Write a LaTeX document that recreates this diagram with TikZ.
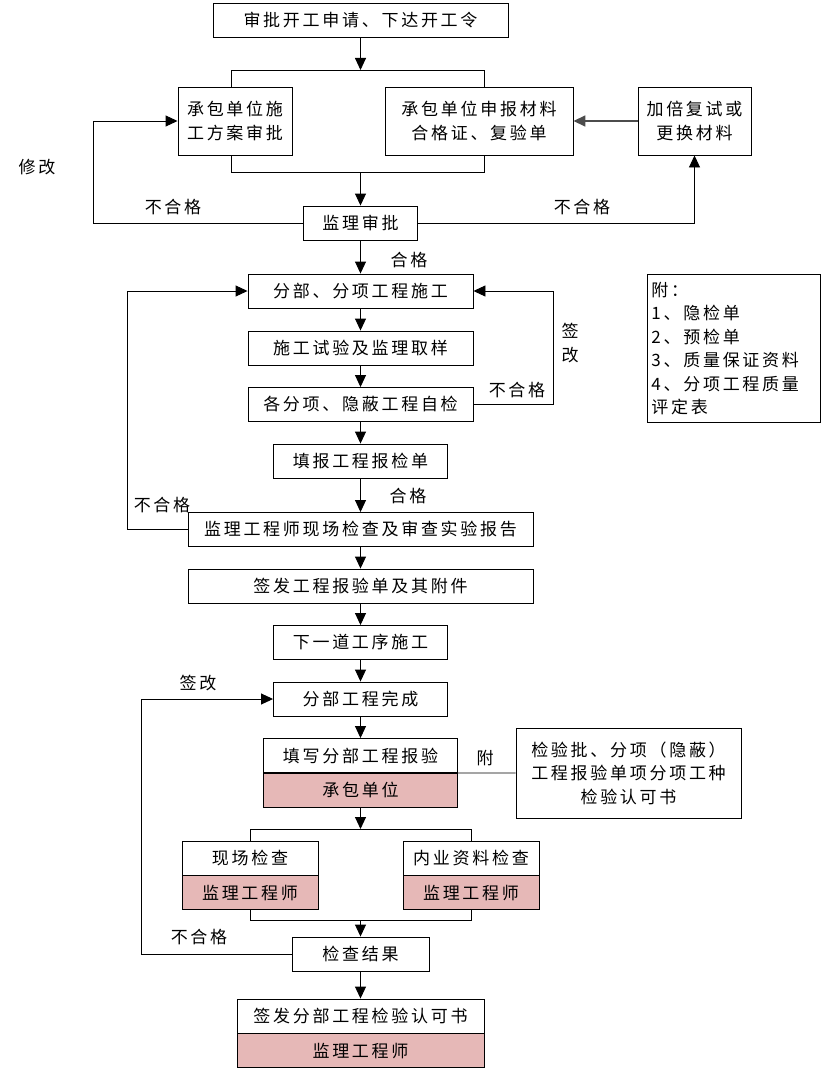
\documentclass[tikz,border=0pt]{standalone}
\usepackage{fontspec}
\newfontfamily\cjk[LetterSpace=16]{Noto Sans CJK SC}
\usetikzlibrary{arrows.meta}
\definecolor{unitpink}{HTML}{E6B8B7}

\begin{document}
\begin{tikzpicture}[x=1pt, y=-1pt, font=\fontsize{17}{23.5}\cjk,
  >={Triangle[length=12pt,width=11pt]},
  box/.style={draw, line width=0.9pt, inner sep=0pt, minimum height=34pt},
  tag/.style={box, fill=unitpink, anchor=north},
  link/.style={line width=0.9pt},
  arr/.style={link, ->},
  lbl/.style={inner sep=0pt}]

  \useasboundingbox (0,0) rectangle (821,1070);

  \def\mx{360.5}

  % boxes
  \node[box, minimum width=295pt] (start) at (\mx,20) {审批开工申请、下达开工令};
  \node[box, minimum width=114pt, minimum height=68pt, align=center] (plan) at (235,121) {承包单位施\\工方案审批};
  \node[box, minimum width=188pt, minimum height=68pt, align=center] (mat) at (479,121) {承包单位申报材料\\合格证、复验单};
  \node[box, minimum width=113pt, minimum height=68pt, align=center] (redo) at (694.5,121) {加倍复试或\\更换材料};
  \node[box, minimum width=114pt] (approve) at (\mx,223) {监理审批};
  \node[box, minimum width=225pt] (sub) at (\mx,291) {分部、分项工程施工};
  \node[box, minimum width=225pt] (test) at (\mx,348) {施工试验及监理取样};
  \node[box, minimum width=225pt] (self) at (\mx,404.5) {各分项、隐蔽工程自检};
  \node[box, minimum width=174pt] (fill) at (\mx,461) {填报工程报检单};
  \node[box, minimum width=345pt] (insp) at (\mx,529.5) {监理工程师现场检查及审查实验报告};
  \node[box, minimum width=345pt] (sign) at (\mx,586) {签发工程报验单及其附件};
  \node[box, minimum width=174pt] (next) at (\mx,642.5) {下一道工序施工};
  \node[box, minimum width=174pt] (done) at (\mx,699) {分部工程完成};
  \node[box, minimum width=194pt] (report) at (\mx,755.5) {填写分部工程报验};
  \node[tag, minimum width=194pt] (reportby) at (report.south) {承包单位};
  \node[box, minimum width=225pt, minimum height=90pt, align=center] (enclose) at (628.5,773) {检验批、分项（隐蔽）\\工程报验单项分项工种\\检验认可书};
  \node[box, minimum width=136pt] (site) at (250,858) {现场检查};
  \node[tag, minimum width=136pt] (siteby) at (site.south) {监理工程师};
  \node[box, minimum width=136pt] (docs) at (471,858) {内业资料检查};
  \node[tag, minimum width=136pt] (docsby) at (docs.south) {监理工程师};
  \node[box, minimum width=137pt] (result) at (\mx,954) {检查结果};
  \node[box, minimum width=247pt] (final) at (\mx,1016) {签发分部工程检验认可书};
  \node[tag, minimum width=247pt] (finalby) at (final.south) {监理工程师};
  \node[box, anchor=north west, minimum height=148pt, text width=165pt, inner xsep=4pt, align=left] (note) at (647,274)
    {附：\\1、隐检单\\2、预检单\\3、质量保证资料\\4、分项工程质量\\评定表};

  % junctions
  \coordinate (tj) at (\mx,70);
  \coordinate (tl) at (231,70);
  \coordinate (tr) at (484,70);
  \coordinate (bj) at (\mx,172);
  \coordinate (bl) at (231,172);
  \coordinate (br) at (484,172);
  \coordinate (sj) at (\mx,829);
  \coordinate (mj) at (\mx,920);
  \coordinate (lx1) at (93,0);
  \coordinate (lx2) at (127,0);
  \coordinate (lx3) at (141,0);

  % connectors
  \draw[arr] (start) -- (tj);
  \draw[link] (tl |- plan.north) -- (tl) -- (tr) -- (tr |- mat.north);
  \draw[link] (bl |- plan.south) -- (bl) -- (br) -- (br |- mat.south);
  \draw[arr] (bj) -- (approve);
  \draw[->, line width=1.6pt, black!70] (redo) -- (mat);
  \draw[arr] (approve.west) -- (approve.west -| lx1) |- (plan.west);
  \draw[arr] (approve.east) -| (redo.south);
  \draw[arr] (approve) -- (sub);
  \draw[arr] (sub) -- (test);
  \draw[arr] (test) -- (self);
  \draw[arr] (self) -- (fill);
  \draw[arr] (fill) -- (insp);
  \draw[arr] (insp) -- (sign);
  \draw[arr] (sign) -- (next);
  \draw[arr] (next) -- (done);
  \draw[arr] (done) -- (report);
  \draw[arr] (self.east) -- ++(80,0) |- (sub.east);
  \draw[arr] (insp.west) -- (insp.west -| lx2) |- (sub.west);
  \draw[link] (report.south east) -- (enclose.west);
  \draw[arr] (reportby) -- (sj);
  \draw[link] (site.north) |- (sj) -| (docs.north);
  \draw[link] (siteby.south) |- (mj) -| (docsby.south);
  \draw[arr] (mj) -- (result);
  \draw[arr] (result.west) -- (result.west -| lx3) |- (done.west);
  \draw[arr] (result) -- (final);

  % labels
  \node[lbl] (fix) at (37,167) {修改};
  \node[lbl] (failL) at (173,207) {不合格};
  \node[lbl] (failR) at (582,207) {不合格};
  \node[lbl] (pass1) at (409,260) {合格};
  \node[lbl, align=center] (revise1) at (570,343) {签\\改};
  \node[lbl] (fail2) at (517,390) {不合格};
  \node[lbl] (pass2) at (408,496) {合格};
  \node[lbl] (fail3) at (162,505) {不合格};
  \node[lbl] (revise2) at (198,683) {签改};
  \node[lbl] (with) at (485,758) {附};
  \node[lbl] (fail4) at (199,937) {不合格};

\end{tikzpicture}
\end{document}
